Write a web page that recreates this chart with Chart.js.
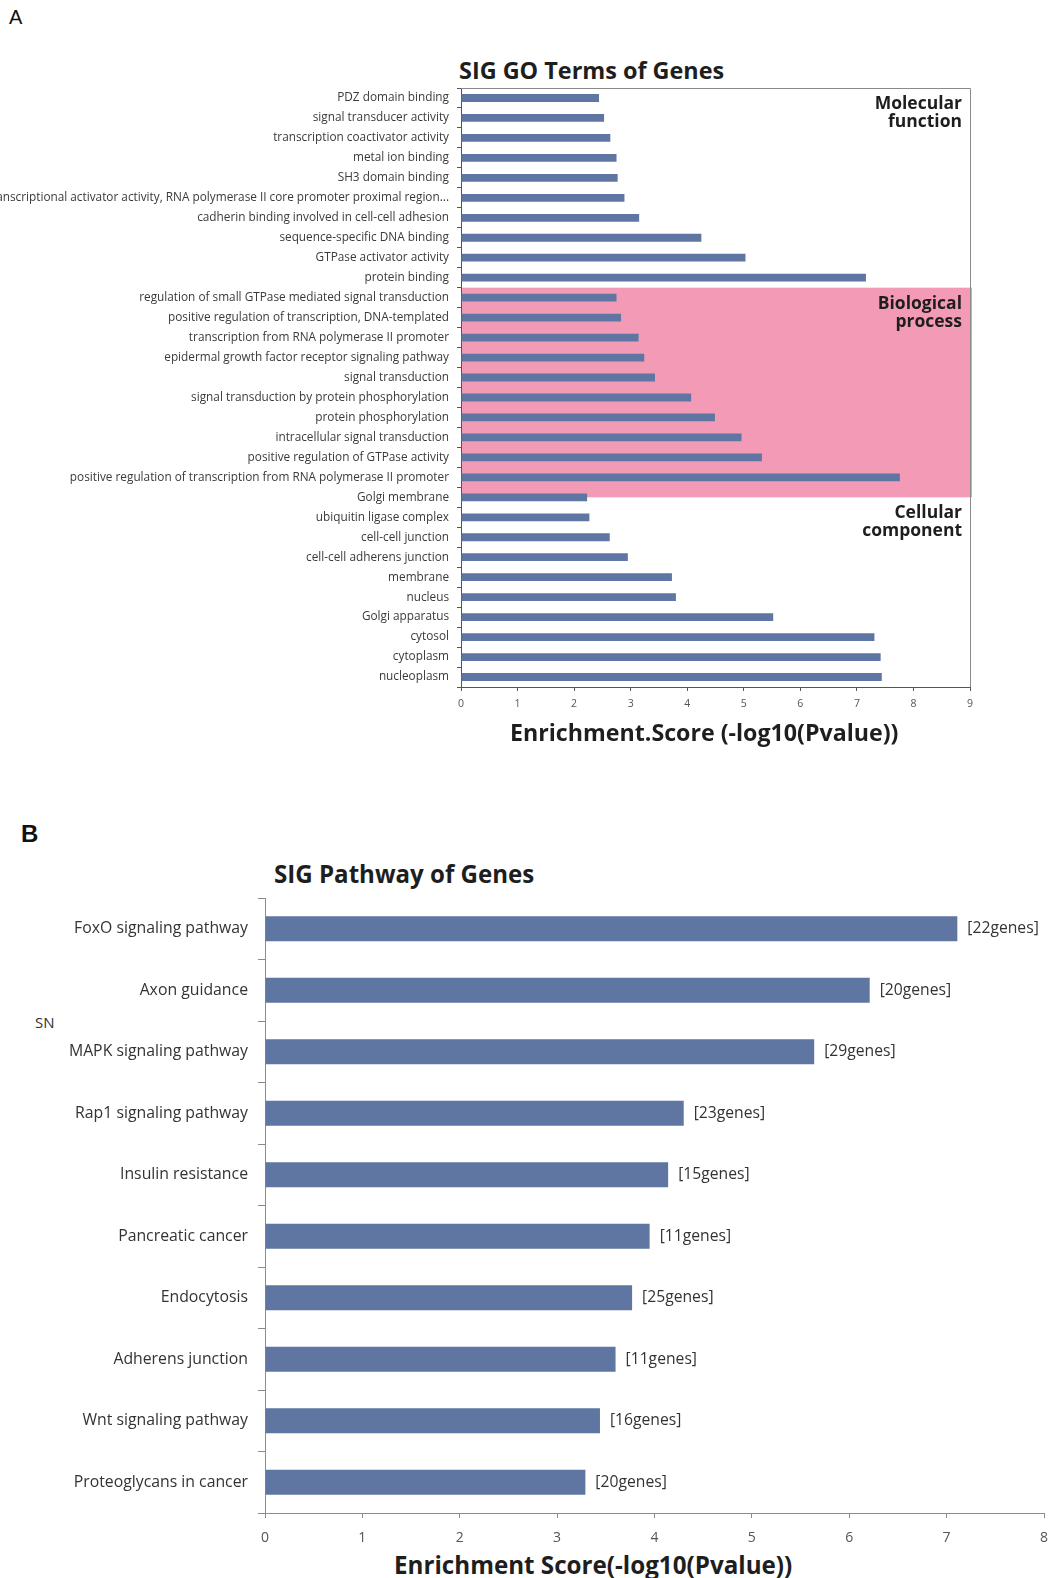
<!DOCTYPE html>
<html>
<head>
<meta charset="utf-8">
<script src="https://cdn.jsdelivr.net/npm/chart.js@4.4.1/dist/chart.umd.min.js"></script>
<style>
  html, body { margin: 0; padding: 0; background: #fff; overflow: hidden; }
  body { width: 1052px; height: 1578px; position: relative; font-family: "Open Sans", sans-serif; }
  .txt { position: absolute; white-space: nowrap; line-height: 1; color: #1e1e1e; }
  .wrap { position: absolute; left: 0; }
</style>
</head>
<body>
<div class="txt" style="left:9px;top:6px;font:20px Arial, 'Liberation Sans', sans-serif;color:#111;">A</div>
<div class="txt" style="left:459px;top:54px;font:bold 23.4px 'Open Sans';">SIG GO Terms of Genes</div>
<div class="wrap" style="top:40px;width:1052px;height:680px;"><canvas id="goChart" width="1052" height="680"></canvas></div>
<div class="txt" style="left:510px;top:716px;font:bold 23.2px 'Open Sans';">Enrichment.Score (-log10(Pvalue))</div>

<div class="txt" style="left:21px;top:820px;font:bold 24px Arial, 'Liberation Sans', sans-serif;color:#111;">B</div>
<div class="txt" style="left:274px;top:857px;font:bold 24.1px 'Open Sans';">SIG Pathway of Genes</div>
<div class="txt" style="left:35px;top:1012px;font:15px 'Open Sans';color:#333;">SN</div>
<div class="wrap" style="top:850px;width:1064px;height:695px;"><canvas id="pathChart" width="1064" height="695"></canvas></div>
<div class="txt" style="left:394px;top:1548px;font:bold 24.2px 'Open Sans';">Enrichment Score(-log10(Pvalue))</div>

<script>
// ---- GO enrichment (panel A) ----
const goTerms = [
  'PDZ domain binding',
  'signal transducer activity',
  'transcription coactivator activity',
  'metal ion binding',
  'SH3 domain binding',
  'transcriptional activator activity, RNA polymerase II core promoter proximal region...',
  'cadherin binding involved in cell-cell adhesion',
  'sequence-specific DNA binding',
  'GTPase activator activity',
  'protein binding',
  'regulation of small GTPase mediated signal transduction',
  'positive regulation of transcription, DNA-templated',
  'transcription from RNA polymerase II promoter',
  'epidermal growth factor receptor signaling pathway',
  'signal transduction',
  'signal transduction by protein phosphorylation',
  'protein phosphorylation',
  'intracellular signal transduction',
  'positive regulation of GTPase activity',
  'positive regulation of transcription from RNA polymerase II promoter',
  'Golgi membrane',
  'ubiquitin ligase complex',
  'cell-cell junction',
  'cell-cell adherens junction',
  'membrane',
  'nucleus',
  'Golgi apparatus',
  'cytosol',
  'cytoplasm',
  'nucleoplasm'
];
const goScores = [
  2.44, 2.53, 2.64, 2.75, 2.77, 2.89, 3.15, 4.25, 5.03, 7.16,
  2.75, 2.83, 3.14, 3.24, 3.43, 4.07, 4.49, 4.96, 5.32, 7.76,
  2.23, 2.27, 2.63, 2.95, 3.73, 3.80, 5.52, 7.31, 7.42, 7.44
];
const goSectionLines = [['Molecular', 'function'], ['Biological', 'process'], ['Cellular', 'component']];
const goSectionStart = [0, 10, 20];
const goScoreMax = 9;

// ---- KEGG pathways (panel B) ----
const pathways = [
  'FoxO signaling pathway',
  'Axon guidance',
  'MAPK signaling pathway',
  'Rap1 signaling pathway',
  'Insulin resistance',
  'Pancreatic cancer',
  'Endocytosis',
  'Adherens junction',
  'Wnt signaling pathway',
  'Proteoglycans in cancer'
];
const pathwayScores = [7.11, 6.21, 5.64, 4.30, 4.14, 3.95, 3.77, 3.60, 3.44, 3.29];
const pathwayGenes = [22, 20, 29, 23, 15, 11, 25, 11, 16, 20];
const pathwayScoreMax = 8;

const BAR = '#5E76A1';
const BAND = '#F39BB6';

Chart.defaults.font.family = 'Open Sans';
Chart.defaults.animation = false;
Chart.defaults.responsive = false;
Chart.defaults.devicePixelRatio = 1;

// Pink highlight behind the biological-process block, plus the frame and block names
const goDecor = {
  id: 'goDecor',
  beforeDatasetsDraw(chart) {
    const { ctx, chartArea: a, scales: { y } } = chart;
    const top = y.getPixelForValue(goSectionStart[1] - 0.5);
    const bottom = y.getPixelForValue(goSectionStart[2]);
    ctx.save();
    ctx.fillStyle = BAND;
    ctx.fillRect(a.left + 1, top, a.right - a.left + 1, bottom - top);
    ctx.restore();
  },
  afterDatasetsDraw(chart) {
    const { ctx, chartArea: a, scales: { y } } = chart;
    ctx.save();
    ctx.strokeStyle = '#8a8a8a';
    ctx.lineWidth = 1;
    ctx.beginPath();
    ctx.moveTo(a.left, a.top + 0.5);
    ctx.lineTo(a.right + 0.5, a.top + 0.5);
    ctx.lineTo(a.right + 0.5, a.bottom);
    ctx.stroke();

    const anchors = [
      a.top,
      y.getPixelForValue(goSectionStart[1] - 0.5),
      y.getPixelForValue(goSectionStart[2])
    ];
    ctx.fillStyle = '#1e1e1e';
    ctx.font = 'bold 17.5px "Open Sans"';
    ctx.textAlign = 'right';
    ctx.textBaseline = 'alphabetic';
    goSectionLines.forEach((lines, i) => {
      lines.forEach((t, j) => ctx.fillText(t, a.right - 8, anchors[i] + 21 + j * 18));
    });
    ctx.restore();
  }
};

new Chart(document.getElementById('goChart'), {
  type: 'bar',
  data: {
    labels: goTerms,
    datasets: [{ data: goScores, backgroundColor: BAR, categoryPercentage: 1, barPercentage: 0.39 }]
  },
  options: {
    indexAxis: 'y',
    layout: { padding: { top: 48, right: 82, bottom: 0, left: 0 } },
    plugins: { legend: { display: false }, tooltip: { enabled: false } },
    scales: {
      x: {
        type: 'linear', min: 0, max: goScoreMax,
        ticks: { stepSize: 1, color: '#555', font: { size: 10.5 }, padding: 7 },
        grid: { drawOnChartArea: false, drawTicks: true, tickLength: 4, color: '#555' },
        border: { color: '#555' },
        afterFit(s) { s.height = 33; }
      },
      y: {
        ticks: { autoSkip: false, color: '#3a3a3a', font: { size: 11.8 }, padding: 8 },
        grid: { drawOnChartArea: false, drawTicks: true, tickLength: 4, color: '#555', offset: true },
        border: { color: '#555' },
        afterFit(s) { s.width = 461; }
      }
    }
  },
  plugins: [goDecor]
});

// Gene counts written after each pathway bar
const geneCounts = {
  id: 'geneCounts',
  afterDatasetsDraw(chart) {
    const { ctx } = chart;
    const bars = chart.getDatasetMeta(0).data;
    ctx.save();
    ctx.fillStyle = '#333';
    ctx.font = '15.7px "Open Sans"';
    ctx.textAlign = 'left';
    ctx.textBaseline = 'middle';
    bars.forEach((b, i) => ctx.fillText('[' + pathwayGenes[i] + 'genes]', b.x + 10, b.y));
    ctx.restore();
  }
};

new Chart(document.getElementById('pathChart'), {
  type: 'bar',
  data: {
    labels: pathways,
    datasets: [{ data: pathwayScores, backgroundColor: BAR, categoryPercentage: 1, barPercentage: 0.41 }]
  },
  options: {
    indexAxis: 'y',
    layout: { padding: { top: 48, right: 20, bottom: 0, left: 0 } },
    plugins: { legend: { display: false }, tooltip: { enabled: false } },
    scales: {
      x: {
        type: 'linear', min: 0, max: pathwayScoreMax,
        ticks: { stepSize: 1, color: '#555', font: { size: 14 }, padding: 12 },
        grid: { drawOnChartArea: false, drawTicks: true, tickLength: 5, color: '#8c8c8c' },
        border: { color: '#8c8c8c' },
        afterFit(s) { s.height = 32; }
      },
      y: {
        ticks: { autoSkip: false, color: '#333', font: { size: 15.8 }, padding: 10 },
        grid: { drawOnChartArea: false, drawTicks: true, tickLength: 7, color: '#8c8c8c', offset: true },
        border: { color: '#8c8c8c' },
        afterFit(s) { s.width = 265; }
      }
    }
  },
  plugins: [geneCounts]
});
</script>
</body>
</html>
